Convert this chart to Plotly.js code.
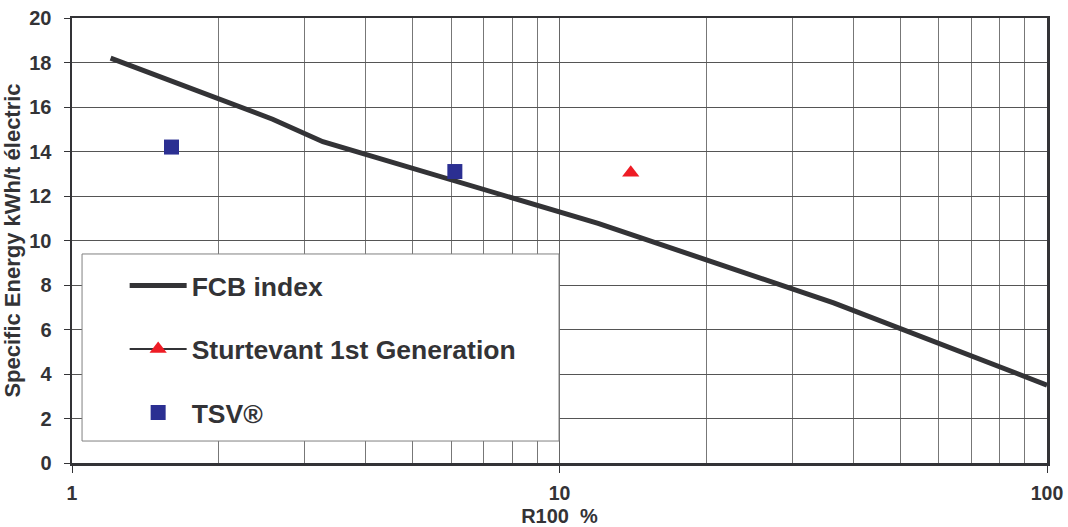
<!DOCTYPE html>
<html>
<head>
<meta charset="utf-8">
<script src="https://cdn.plot.ly/plotly-3.0.1.min.js"></script>
<style>
  html, body { margin: 0; padding: 0; background: #ffffff; }
  #chart { width: 1068px; height: 527px; }
</style>
</head>
<body>
<div id="chart"></div>
<script>
// FCB index reference curve
const fcbR100 = [1.2, 2.58, 3.27, 12, 36.5, 100];
const fcbEnergy = [18.2, 15.45, 14.44, 10.77, 7.2, 3.5];

// Sturtevant 1st Generation measurement
const sturtevantR100 = [14.0];
const sturtevantEnergy = [13.05];

// TSV® measurements
const tsvR100 = [1.6, 6.1];
const tsvEnergy = [14.2, 13.1];

// Axis ticks
const xTickVals = [1, 10, 100];
const xTickText = ['1', '10', '100'];
const yTickVals = [0, 2, 4, 6, 8, 10, 12, 14, 16, 18, 20];

const seriesNames = ['FCB index', 'Sturtevant 1st Generation', 'TSV®'];

const FONT = '"Liberation Sans", Arial, Helvetica, sans-serif';
const INK = '#333336';

const traces = [
  {
    x: fcbR100, y: fcbEnergy, name: seriesNames[0],
    type: 'scatter', mode: 'lines',
    line: { color: INK, width: 5 },
    legendgroup: 'g1'
  },
  {
    x: sturtevantR100, y: sturtevantEnergy, name: seriesNames[1],
    type: 'scatter', mode: 'lines+markers',
    line: { color: INK, width: 2 },
    marker: { symbol: 'triangle-up', size: 15, color: '#ee1c25', line: { width: 0 } },
    legendgroup: 'g2'
  },
  {
    x: tsvR100, y: tsvEnergy, name: seriesNames[2],
    type: 'scatter', mode: 'markers',
    marker: { symbol: 'square', size: 15, color: '#2b2f92', line: { width: 0 } },
    legendgroup: 'g3'
  }
];

const layout = {
  width: 1068, height: 527,
  margin: { l: 72, r: 21, t: 18, b: 64 },
  paper_bgcolor: '#ffffff', plot_bgcolor: '#ffffff',
  font: { family: FONT, color: INK },
  showlegend: true,
  legend: {
    x: 0.054, xanchor: 'left',
    y: 0.452, yanchor: 'top',
    bgcolor: 'rgba(0,0,0,0)', borderwidth: 0,
    font: { family: FONT, size: 26.5, color: INK, weight: 'bold' },
    itemwidth: 57,
    traceorder: 'grouped',
    tracegroupgap: 26
  },
  xaxis: {
    type: 'log', range: [0, 2],
    tickmode: 'array', tickvals: xTickVals, ticktext: xTickText,
    ticks: 'outside', ticklen: 7, tickwidth: 1, tickcolor: INK,
    ticklabelstandoff: 4,
    tickfont: { family: FONT, size: 19.5, color: INK, weight: 'bold' },
    showgrid: true, gridcolor: '#666666', gridwidth: 1,
    minor: { dtick: 'D1', showgrid: true, gridcolor: '#777777', gridwidth: 1, ticks: '' },
    showline: true, linecolor: INK, linewidth: 2.5, mirror: true,
    zeroline: false,
    title: { text: 'R100\u00a0\u00a0%', standoff: 9, font: { family: FONT, size: 20, color: INK, weight: 'bold' } }
  },
  yaxis: {
    range: [0, 20],
    tickmode: 'array', tickvals: yTickVals,
    ticks: 'outside', ticklen: 6, tickwidth: 1, tickcolor: INK,
    ticklabelstandoff: 8,
    tickfont: { family: FONT, size: 20, color: INK, weight: 'bold' },
    showgrid: true, gridcolor: '#555555', gridwidth: 1,
    showline: true, linecolor: INK, linewidth: 2.5, mirror: true,
    zeroline: false,
    title: { text: 'Specific Energy kWh/t électric', standoff: 3, font: { family: FONT, size: 22, color: INK, weight: 'bold' } }
  },
  shapes: [
    {
      type: 'rect', xref: 'paper', yref: 'paper', layer: 'above',
      x0: 0.0103, x1: 0.4995, y0: 0.0494, y1: 0.4697,
      fillcolor: '#ffffff', line: { color: '#808080', width: 1 }
    }
  ]
};

Plotly.newPlot('chart', traces, layout, { displayModeBar: false, staticPlot: true });
</script>
</body>
</html>
